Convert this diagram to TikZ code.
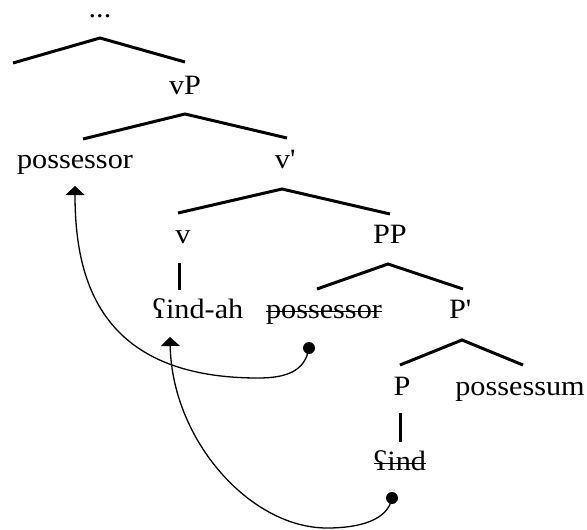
\documentclass[tikz,border=0pt]{standalone}
\usepackage{fontspec}
\setmainfont[FakeStretch=1.08]{Liberation Serif}
\usetikzlibrary{arrows.meta}
\begin{document}
\begin{tikzpicture}[x=1pt,y=-1pt,
  lbl/.style={inner sep=0pt,anchor=base,font=\fontsize{28}{32}\selectfont},
  branch/.style={line width=3pt},
  mv/.style={line width=1.3pt},
  strike/.style={line width=1.3pt},
  tip/.style={-{Triangle[width=19pt,length=9pt]}},
  dotc/.style={fill=black,circle,inner sep=0pt,minimum size=12pt}]
\useasboundingbox (0,0) rectangle (587,530);
% nodes
\node[lbl,text height=4pt] (dots) at (100,17) {...};
\node[lbl] (vP) at (185,94) {vP};
\node[lbl] (poss) at (75,168) {possessor};
\node[lbl] (vbar) at (285,168) {v\textquotesingle};
\node[lbl] (v) at (183,243) {v};
\node[lbl] (PP) at (390,243) {PP};
\node[lbl] (findah) at (198,318) {ʕind-ah};
\node[lbl] (poss2) at (324,318) {possessor};
\node[lbl] (Pbar) at (460,318) {P\textquotesingle};
\node[lbl] (P) at (402,395) {P};
\node[lbl] (possum) at (520,395) {possessum};
\node[lbl] (find) at (400,470) {ʕind};
% strike-through
\draw[strike] ([yshift=6.5pt]poss2.base west) -- ([yshift=6.5pt]poss2.base east);
\draw[strike] ([yshift=6.5pt]find.base west) -- ([yshift=6.5pt]find.base east);
% branch coordinates
\coordinate (a0) at (100,38); \coordinate (l0) at (13,63); \coordinate (r0) at (185,62);
\coordinate (a1) at (185,114); \coordinate (l1) at (83,139); \coordinate (r1) at (287,138);
\coordinate (a2) at (282,189); \coordinate (l2) at (178,213); \coordinate (r2) at (390,214);
\coordinate (a3) at (388,264); \coordinate (l3) at (317,289); \coordinate (r3) at (463,289);
\coordinate (a4) at (462,340); \coordinate (l4) at (400,365); \coordinate (r4) at (523,365);
\coordinate (vt) at (179,263); \coordinate (vb) at (179,290);
\coordinate (pt) at (400,413); \coordinate (pb) at (400,442);
\draw[branch] (l0) -- (a0) -- (r0);
\draw[branch] (l1) -- (a1) -- (r1);
\draw[branch] (l2) -- (a2) -- (r2);
\draw[branch] (l3) -- (a3) -- (r3);
\draw[branch] (l4) -- (a4) -- (r4);
\draw[branch] (vt) -- (vb);
\draw[branch] (pt) -- (pb);
% movement
\node[dotc] (d1) at (309,348) {};
\node[dotc] (d2) at (392,498) {};
\coordinate (t1) at (75,186);
\coordinate (t2) at (170,337);
\coordinate (b1) at (258,378);
\coordinate (b2) at (327,528);
\draw[mv,tip] (d1.center) .. controls (305,372) and (285,378) .. (b1)
  .. controls (100,378) and (75,280) .. (t1);
\draw[mv,tip] (d2.center) .. controls (388,520) and (360,528) .. (b2)
  .. controls (250,528) and (172,440) .. (t2);
\end{tikzpicture}
\end{document}
